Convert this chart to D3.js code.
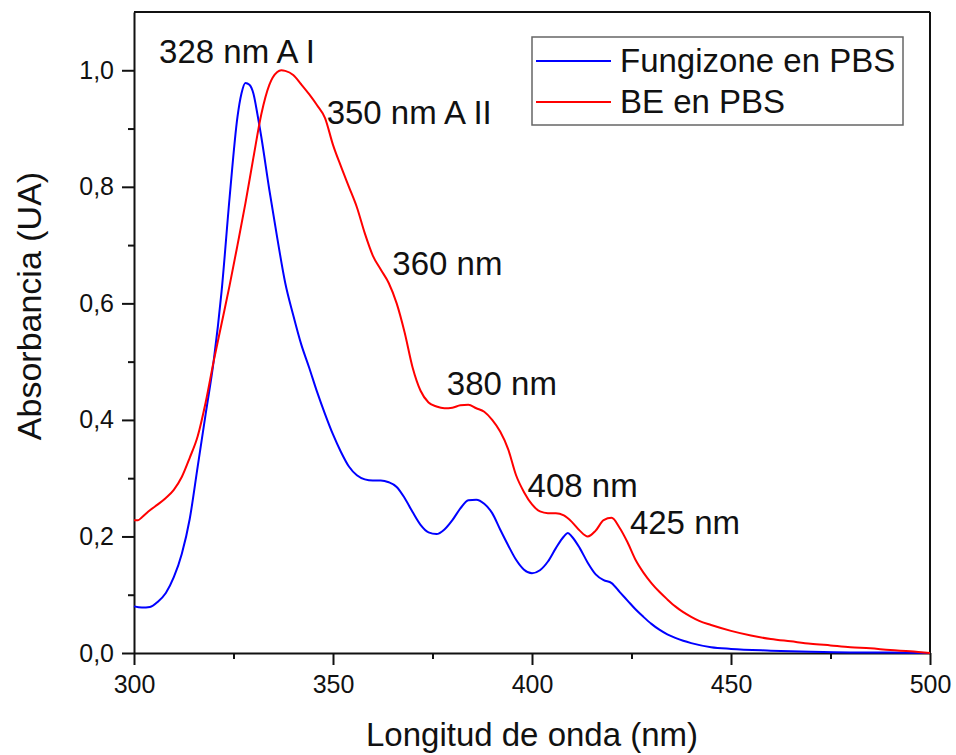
<!DOCTYPE html>
<html>
  <head>
    <meta http-equiv="Content-Type" content="text/html;charset=utf-8">
    <title>Absorbancia Fungizone / BE en PBS</title>
    <script type="text/javascript" src="https://d3js.org/d3.v7.min.js"></script>
    <style>
	    html, body {
		    margin: 0;
		    padding: 0;
		    background: #fff;
	    }
	    text {
		    font-family: "Liberation Sans", Arial, sans-serif;
		    fill: #111;
	    }
	    path.line {
		    fill: none;
		    stroke-width: 2px;
	    }
		.axis path,
		.axis line {
		  fill: none;
		  stroke: #111;
		  stroke-width: 2px;
		}
    </style>
  </head>
  <body>
	<script type="text/javascript">

// wavelengths (nm) and absorbance
var fungizoneX = [300,302,304,306,308,310,312,314,316,318,320,322,324,326,327,328,329,330,331,332,334,336,338,340,342,344,346,348,350,352,354,356,358,360,362,364,366,368,370,372,374,376,378,380,382,384,386,388,390,392,394,396,398,400,402,404,406,408,409,410,412,414,416,418,420,422,424,426,428,430,432,434,436,438,440,445,450,460,470,480,490,500];
var fungizoneY = [0.080,0.078,0.079,0.088,0.103,0.130,0.170,0.230,0.320,0.410,0.500,0.620,0.780,0.920,0.960,0.978,0.975,0.960,0.925,0.885,0.795,0.712,0.635,0.580,0.530,0.490,0.448,0.410,0.375,0.345,0.320,0.305,0.298,0.296,0.296,0.293,0.285,0.266,0.242,0.220,0.207,0.204,0.212,0.228,0.248,0.262,0.263,0.256,0.240,0.212,0.185,0.160,0.143,0.137,0.142,0.157,0.180,0.200,0.206,0.200,0.180,0.155,0.135,0.125,0.120,0.105,0.090,0.075,0.062,0.050,0.040,0.032,0.026,0.021,0.017,0.010,0.007,0.004,0.002,0.001,0.001,0.000];

var beX = [300,301,302,304,306,308,310,312,314,316,318,320,322,324,326,328,330,332,334,336,337,338,340,342,344,346,348,350,352,354,356,358,360,362,364,366,368,370,372,374,376,378,380,382,384,386,388,390,392,394,396,398,400,402,404,406,408,410,412,414,416,418,420,422,424,426,428,430,432,434,436,438,440,442,445,450,455,460,465,470,475,480,485,490,495,500];
var beY = [0.228,0.228,0.233,0.245,0.255,0.266,0.280,0.302,0.335,0.372,0.430,0.500,0.565,0.630,0.700,0.772,0.850,0.925,0.975,0.997,1.000,0.999,0.992,0.976,0.959,0.940,0.918,0.872,0.835,0.800,0.765,0.720,0.682,0.658,0.635,0.600,0.550,0.490,0.450,0.430,0.423,0.420,0.421,0.425,0.426,0.420,0.414,0.400,0.380,0.350,0.305,0.276,0.255,0.243,0.240,0.240,0.236,0.225,0.210,0.200,0.210,0.228,0.232,0.215,0.190,0.160,0.138,0.120,0.105,0.092,0.080,0.070,0.062,0.055,0.048,0.038,0.030,0.024,0.020,0.016,0.013,0.010,0.008,0.005,0.003,0.000];

var seriesNames = ["Fungizone en PBS", "BE en PBS"];
var seriesColors = ["#0000ff", "#ff0000"];

var xTicks = [300, 350, 400, 450, 500];
var yTicks = [0, 0.2, 0.4, 0.6, 0.8, 1.0];

// peak annotations: text, wavelength and absorbance of the label's left/baseline
var noteText = ["328 nm A I", "350 nm A II", "360 nm", "380 nm", "408 nm", "425 nm"];
var noteX = [306.3, 348.4, 364.9, 378.6, 398.9, 424.6];
var noteY = [1.012, 0.908, 0.649, 0.443, 0.267, 0.205];

var W = 956, H = 755;
var margin = {left: 134, right: 26, top: 12, bottom: 102};
var width = W - margin.left - margin.right;
var height = H - margin.top - margin.bottom;

var x = d3.scaleLinear().domain([300, 500]).range([0, width]);
var y = d3.scaleLinear().domain([0, 1.1]).range([height, 0]);

var fmt = function(d) { return d3.format(".1f")(d).replace(".", ","); };

var svg = d3.select("body").append("svg").attr("width", W).attr("height", H);
var g = svg.append("g").attr("transform", "translate(" + margin.left + "," + margin.top + ")");

// minor ticks first
g.append("g").attr("class", "axis")
	.attr("transform", "translate(0," + height + ")")
	.call(d3.axisBottom(x).tickValues(d3.range(325, 500, 50)).tickSize(6).tickFormat(""))
	.select(".domain").remove();
g.append("g").attr("class", "axis")
	.call(d3.axisLeft(y).tickValues(d3.range(0.1, 1.1, 0.2)).tickSize(6).tickFormat(""))
	.select(".domain").remove();

var xAxis = g.append("g").attr("class", "axis x")
	.attr("transform", "translate(0," + height + ")")
	.call(d3.axisBottom(x).tickValues(xTicks).tickSize(12).tickSizeOuter(0).tickPadding(10));
xAxis.selectAll("text").style("font-size", "25px");

var yAxis = g.append("g").attr("class", "axis y")
	.call(d3.axisLeft(y).tickValues(yTicks).tickFormat(fmt).tickSize(12).tickSizeOuter(0).tickPadding(8));
yAxis.selectAll("text").style("font-size", "25px");

// top and right frame
g.append("line").attr("x1", 0).attr("x2", width).attr("y1", 0).attr("y2", 0)
	.attr("stroke", "#111").attr("stroke-width", 2);
g.append("line").attr("x1", width).attr("x2", width).attr("y1", 0).attr("y2", height)
	.attr("stroke", "#111").attr("stroke-width", 2);

var line = d3.line()
	.x(function(d){ return x(d[0]); })
	.y(function(d){ return y(d[1]); })
	.curve(d3.curveMonotoneX);

var series = [d3.zip(fungizoneX, fungizoneY), d3.zip(beX, beY)];

g.selectAll("path.line").data(series).enter().append("path")
	.attr("class", "line")
	.attr("stroke", function(d, i){ return seriesColors[i]; })
	.attr("d", line);

g.selectAll("text.note").data(noteText).enter().append("text")
	.attr("class", "note")
	.attr("x", function(d, i){ return x(noteX[i]); })
	.attr("y", function(d, i){ return y(noteY[i]); })
	.style("font-size", "33px")
	.text(function(d){ return d; });

// legend
var legend = svg.append("g").attr("transform", "translate(532,37)");
legend.append("rect").attr("width", 371).attr("height", 88)
	.attr("fill", "#fff").attr("stroke", "#666").attr("stroke-width", 1.5);
var item = legend.selectAll("g.item").data(seriesNames).enter().append("g")
	.attr("class", "item")
	.attr("transform", function(d, i){ return "translate(0," + (24 + i * 41) + ")"; });
item.append("line").attr("x1", 4).attr("x2", 79)
	.attr("stroke", function(d, i){ return seriesColors[i]; }).attr("stroke-width", 2);
item.append("text").attr("x", 88).attr("y", 11).style("font-size", "33px")
	.text(function(d){ return d; });

// axis titles
svg.append("text")
	.attr("x", margin.left + x(400)).attr("y", 746)
	.attr("text-anchor", "middle").style("font-size", "33px")
	.text("Longitud de onda (nm)");
svg.append("text")
	.attr("transform", "translate(41,306) rotate(-90)")
	.attr("text-anchor", "middle").style("font-size", "34px")
	.text("Absorbancia (UA)");

	</script>
  </body>
</html>
